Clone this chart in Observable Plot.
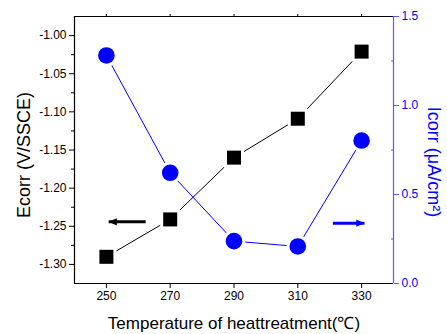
<!DOCTYPE html>
<html>
<head>
<meta charset="utf-8">
<script src="https://cdn.jsdelivr.net/npm/d3@7"></script>
<script src="https://cdn.jsdelivr.net/npm/@observablehq/plot@0.6"></script>
<style>
  html, body { margin: 0; padding: 0; background: #fff; }
</style>
</head>
<body>
<div id="chart"></div>
<script>
// ---- data ----
const temps = [250, 270, 290, 310, 330];
const ecorr = [-1.290, -1.241, -1.160, -1.109, -1.021];
const icorr = [1.281, 0.622, 0.238, 0.208, 0.803];

const xTicks = [250, 270, 290, 310, 330];
const eTicks = [-1.30, -1.25, -1.20, -1.15, -1.10, -1.05, -1.00];
const eMinor = [-1.275, -1.225, -1.175, -1.125, -1.075, -1.025];
const iTicks = [0.0, 0.5, 1.0, 1.5];
const iMinor = [0.25, 0.75, 1.25];

const xDomain = [240, 340];
const eDomain = [-1.325, -0.975];
const iDomain = [0, 1.5];

// arrow annotations (data units): black -> Ecorr axis, blue -> Icorr axis
const arrowFrom = [262.3, 321.0];
const arrowTo = [250.7, 330.9];
const arrowEcorr = [-1.2442, null];
const arrowIcorr = [null, 0.339];

const xTitle = "Temperature of heattreatment(\u2103)";
const yTitle = "Ecorr (V/SSCE)";
const y2Title = "Icorr (\u03bcA/cm\u00b2)";

// ---- helpers ----
const toE = i => eDomain[0] + (i - iDomain[0]) / (iDomain[1] - iDomain[0]) * (eDomain[1] - eDomain[0]);
const toI = e => iDomain[0] + (e - eDomain[0]) / (eDomain[1] - eDomain[0]) * (iDomain[1] - iDomain[0]);

const eData = temps.map((t, k) => ({t, v: ecorr[k]}));
const iData = temps.map((t, k) => ({t, v: toE(icorr[k])}));
const arrows = arrowFrom.map((x1, k) => ({
  x1, x2: arrowTo[k],
  y: arrowEcorr[k] != null ? arrowEcorr[k] : toE(arrowIcorr[k]),
  c: arrowEcorr[k] != null ? "black" : "#0000ff",
  rot: arrowTo[k] < x1 ? -90 : 90
}));

// arrowhead symbol: tip at the origin, body extending downward (points up before rotation)
const headSymbol = {
  draw(context, size) {
    const h = Math.sqrt(size) * 1.0;
    const w = h * 0.9;
    context.moveTo(0, 0);
    context.lineTo(-w / 2, h);
    context.lineTo(w / 2, h);
    context.closePath();
  }
};

const BLUE = "#0000ff";
const BLUE_AXIS = "#5a5aff";
const FONT = "'Liberation Sans', Arial, Helvetica, sans-serif";

const chart = Plot.plot({
  width: 447,
  height: 334,
  marginLeft: 74,
  marginRight: 54,
  marginTop: 16,
  marginBottom: 51,
  style: {fontFamily: FONT, background: "white", color: "black"},
  x: {domain: xDomain},
  y: {domain: eDomain},
  marks: [
    // frame
    Plot.ruleY([eDomain[1]], {stroke: "black", strokeWidth: 1.2}),
    Plot.ruleY([eDomain[0]], {stroke: "black", strokeWidth: 1.2}),
    Plot.ruleX([xDomain[0]], {stroke: "black", strokeWidth: 1.2}),
    Plot.ruleX([xDomain[1]], {stroke: BLUE_AXIS, strokeWidth: 1.2}),
    // bottom axis
    Plot.axisX(xTicks, {anchor: "bottom", tickSize: 5, tickPadding: 3, fontSize: 12, label: null, tickFormat: d => String(d)}),
    // top axis ticks
    Plot.axisX(xTicks, {anchor: "top", tickSize: 3, label: null, tickFormat: () => ""}),
    // left axis
    Plot.axisY(eTicks, {anchor: "left", tickSize: 5, tickPadding: 3, fontSize: 12, label: null, tickFormat: d => d.toFixed(2)}),
    Plot.axisY(eMinor, {anchor: "left", tickSize: 3, label: null, tickFormat: () => ""}),
    // right axis (Icorr)
    Plot.axisY(iTicks.map(toE), {anchor: "right", tickSize: 5, tickPadding: 3, fontSize: 12, label: null,
      stroke: BLUE_AXIS, fill: BLUE, tickFormat: e => toI(e).toFixed(1)}),
    Plot.axisY(iMinor.map(toE), {anchor: "right", tickSize: 3, dx: -3, label: null, stroke: BLUE_AXIS, tickFormat: () => ""}),
    // titles
    Plot.text([yTitle], {text: d => d, frameAnchor: "left", textAnchor: "middle", lineAnchor: "middle",
      rotate: -90, dx: -50, dy: 5, fontSize: 18, fill: "black"}),
    Plot.text([y2Title], {text: d => d, frameAnchor: "right", textAnchor: "middle", lineAnchor: "middle",
      rotate: 90, dx: 40, dy: 12, fontSize: 18, fill: BLUE}),
    Plot.text([xTitle], {text: d => d, frameAnchor: "bottom", textAnchor: "middle", lineAnchor: "middle",
      dy: 40, fontSize: 17, fill: "black"}),
    // series lines
    Plot.line(eData, {x: "t", y: "v", stroke: "black", strokeWidth: 1}),
    Plot.line(iData, {x: "t", y: "v", stroke: BLUE, strokeWidth: 1}),
    // markers with white halo to break the lines
    Plot.dot(eData, {x: "t", y: "v", symbol: "square", r: 7.9, fill: "black", stroke: "white", strokeWidth: 6, paintOrder: "stroke"}),
    Plot.dot(iData, {x: "t", y: "v", symbol: "circle", r: 8.3, fill: BLUE, stroke: "white", strokeWidth: 6, paintOrder: "stroke"}),
    // arrows: thick shaft + filled triangular head
    Plot.link(arrows, {x1: "x1", x2: "x2", y1: "y", y2: "y", stroke: "c", strokeWidth: 3}),
    Plot.dot(arrows, {x: "x2", y: "y", symbol: headSymbol, r: 4.6, fill: "c", stroke: "none", rotate: "rot"})
  ]
});

document.getElementById("chart").appendChild(chart);
</script>
</body>
</html>
